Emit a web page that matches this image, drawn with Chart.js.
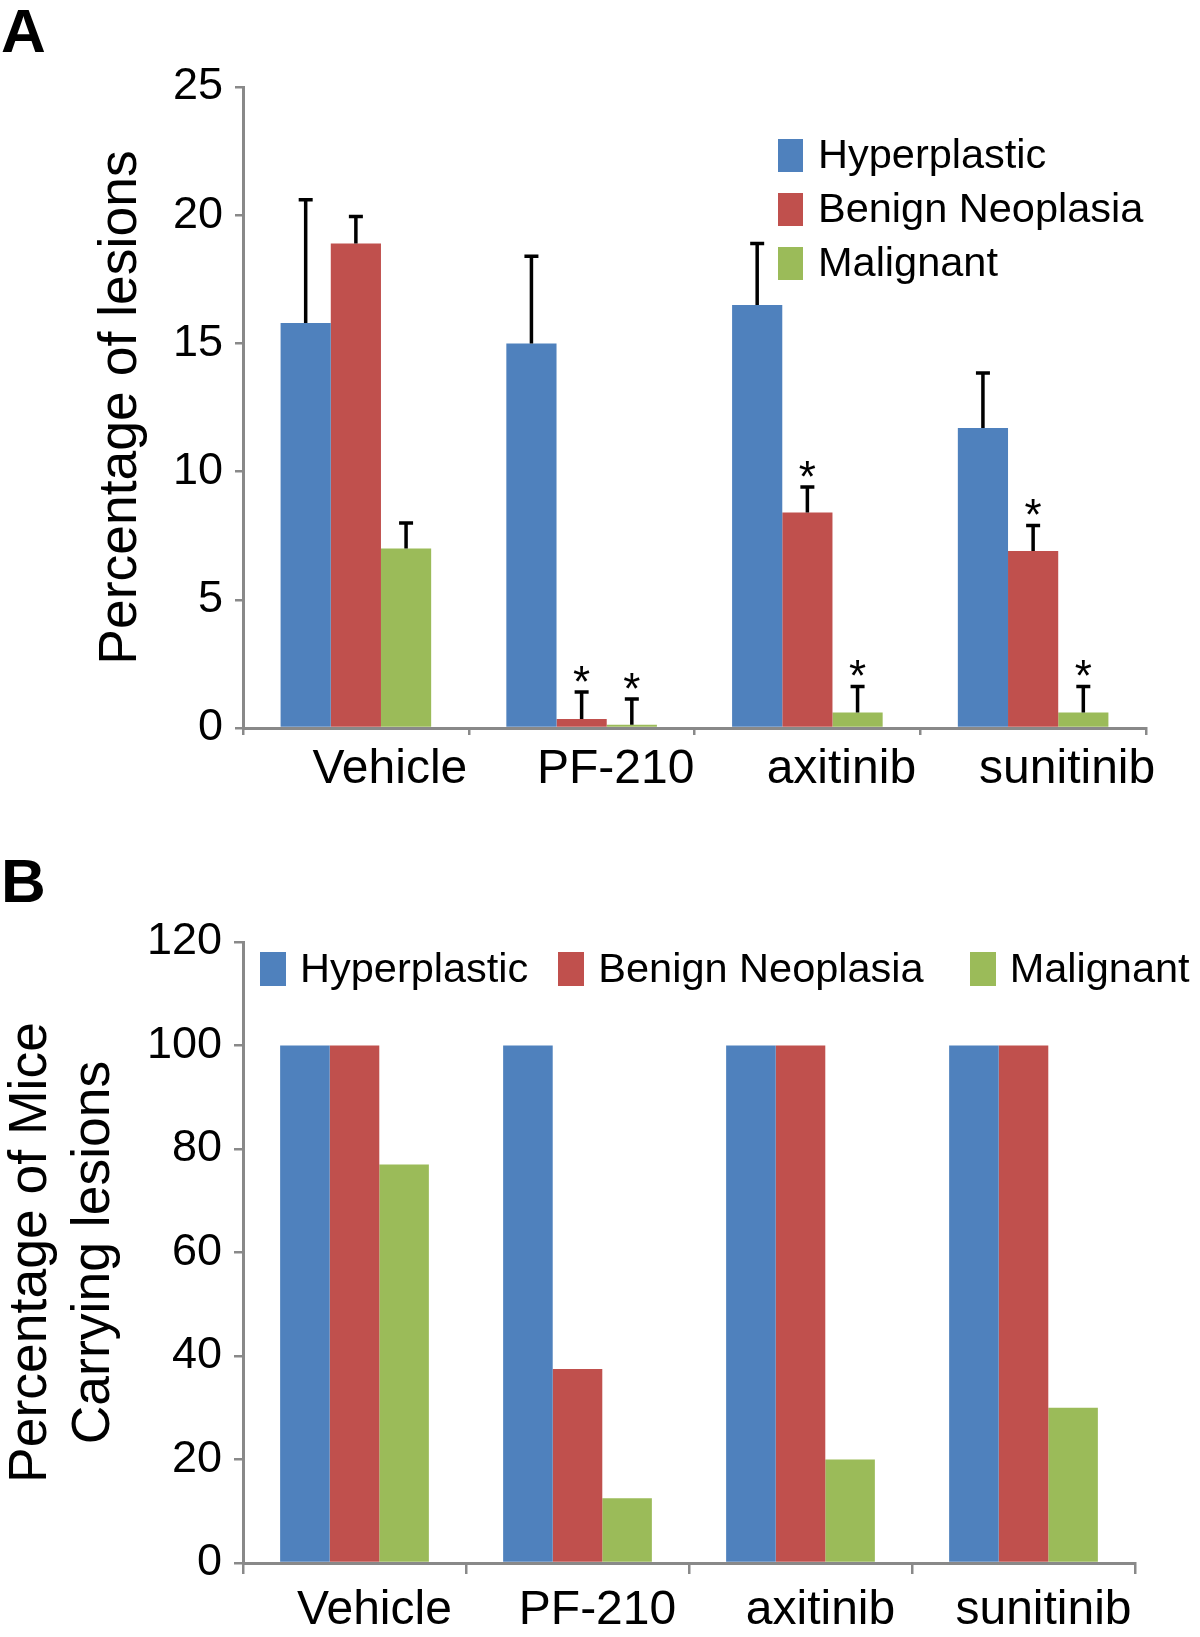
<!DOCTYPE html>
<html><head><meta charset="utf-8">
<script src="https://cdn.jsdelivr.net/npm/chart.js@4.4.1/dist/chart.umd.min.js"></script>
<style>
html,body{margin:0;padding:0;background:#fff;}
body{width:1200px;height:1637px;position:relative;overflow:hidden;font-family:"Liberation Sans",Arial,sans-serif;color:#000;}
canvas{position:absolute;left:0;}
.panel{position:absolute;left:1px;font-weight:bold;font-size:62px;line-height:62px;}
.legend{position:absolute;font-size:41.5px;line-height:41.5px;white-space:nowrap;}
.item{display:flex;align-items:flex-start;}
.sw{display:inline-block;flex:none;}
</style></head><body>
<div class="panel" style="top:0px">A</div>
<div class="panel" style="top:850px">B</div>
<canvas id="cA" width="1200" height="830" style="top:0"></canvas>
<canvas id="cB" width="1200" height="807" style="top:830px"></canvas>
<div id="legA" class="legend" style="left:778px;top:133px"></div>
<div id="legB" class="legend" style="left:260px;top:947px;display:flex"></div>
<script>
// ---------- data ----------
const categories = ['Vehicle', 'PF-210', 'axitinib', 'sunitinib'];
const seriesNames = ['Hyperplastic', 'Benign Neoplasia', 'Malignant'];
const seriesColors = ['#4F81BD', '#C0504D', '#9BBB59'];

// Panel A: percentage of lesions (mean + upper error)
const hyperA = [15.8, 15.0, 16.5, 11.7];
const benignA = [18.9, 0.35, 8.4, 6.9];
const malignantA = [7.0, 0.13, 0.6, 0.6];
const hyperErrA = [4.8, 3.4, 2.4, 2.15];
const benignErrA = [1.05, 1.05, 1.0, 1.0];
const malignantErrA = [1.0, 1.0, 1.02, 1.02];
const hyperSigA = [false, false, false, false];
const benignSigA = [false, true, true, true];
const malignantSigA = [false, true, true, true];
const yTicksA = [0, 5, 10, 15, 20, 25];
const yTitleA = 'Percentage of lesions';

// Panel B: percentage of mice carrying lesions
const hyperB = [100, 100, 100, 100];
const benignB = [100, 37.5, 100, 100];
const malignantB = [77, 12.5, 20, 30];
const yTicksB = [0, 20, 40, 60, 80, 100, 120];
const yTitleB = ['Percentage of Mice', 'Carrying lesions'];

// ---------- styling ----------
const FONT = '"Liberation Sans", Arial, sans-serif';
const axisColor = '#898989';
Chart.defaults.font.family = FONT;
Chart.defaults.color = '#000';

const errorBarPlugin = {
  id: 'errorBars',
  afterDatasetsDraw(chart) {
    const ctx = chart.ctx;
    const yScale = chart.scales.y;
    chart.data.datasets.forEach((ds, di) => {
      if (!ds.errorPlus) return;
      const meta = chart.getDatasetMeta(di);
      meta.data.forEach((bar, i) => {
        const top = yScale.getPixelForValue(ds.data[i] + ds.errorPlus[i]);
        const x = bar.x;
        ctx.save();
        ctx.strokeStyle = '#000';
        ctx.lineWidth = 3.5;
        ctx.beginPath();
        ctx.moveTo(x, bar.y);
        ctx.lineTo(x, top);
        ctx.moveTo(x - 7, top);
        ctx.lineTo(x + 7, top);
        ctx.stroke();
        if (ds.significant && ds.significant[i]) {
          ctx.font = '44px ' + FONT;
          ctx.fillStyle = '#000';
          ctx.textAlign = 'center';
          ctx.textBaseline = 'alphabetic';
          const m = ctx.measureText('*');
          const cy = top - 18;
          const base = cy + (m.actualBoundingBoxAscent - m.actualBoundingBoxDescent) / 2;
          ctx.fillText('*', x, base);
        }
        ctx.restore();
      });
    });
  }
};

function makeDatasets(values, errs, sigs) {
  return seriesNames.map((name, k) => {
    const d = {
      label: name,
      data: values[k],
      backgroundColor: seriesColors[k],
      borderWidth: 0,
      categoryPercentage: 0.667,
      barPercentage: 1.0
    };
    if (errs) { d.errorPlus = errs[k]; d.significant = sigs[k]; }
    return d;
  });
}

function makeOptions(cfg) {
  return {
    responsive: false,
    animation: false,
    devicePixelRatio: 1,
    layout: { padding: cfg.padding },
    plugins: { legend: { display: false }, tooltip: { enabled: false } },
    scales: {
      x: {
        type: 'category',
        offset: true,
        grid: { offset: true, drawOnChartArea: false, drawTicks: true, tickLength: cfg.xTickLen, color: axisColor, lineWidth: 2.5 },
        border: { display: true, color: axisColor, width: 3 },
        ticks: { font: { size: 48 }, color: '#000', padding: cfg.xPad, labelOffset: cfg.labelOffset, maxRotation: 0, autoSkip: false },
        afterFit(s) { s.height = cfg.xHeight; }
      },
      y: {
        min: 0,
        max: cfg.yMax,
        afterBuildTicks(s) { s.ticks = cfg.yTicks.map(v => ({ value: v })); },
        grid: { drawOnChartArea: false, drawTicks: true, tickLength: cfg.yTickLen, color: axisColor, lineWidth: 2.5 },
        border: { display: true, color: axisColor, width: 3 },
        ticks: { font: { size: 45 }, color: '#000', padding: cfg.yPad },
        title: { display: true, text: cfg.title, color: '#000', font: { size: 53.5, lineHeight: cfg.titleLH }, padding: { top: cfg.titlePad, bottom: 0 } },
        afterFit(s) { s.width = 243; }
      }
    }
  };
}

const chartA = new Chart(document.getElementById('cA'), {
  type: 'bar',
  data: {
    labels: categories,
    datasets: makeDatasets([hyperA, benignA, malignantA], [hyperErrA, benignErrA, malignantErrA], [hyperSigA, benignSigA, malignantSigA])
  },
  options: makeOptions({
    padding: { top: 87, right: 54, bottom: 22, left: 0 },
    xTickLen: 7, xPad: 6, labelOffset: 34, xHeight: 80,
    yMax: 25, yTicks: yTicksA, yTickLen: 8, yPad: 12,
    title: yTitleA, titleLH: 1.2, titlePad: 89
  }),
  plugins: [errorBarPlugin]
});

const chartB = new Chart(document.getElementById('cB'), {
  type: 'bar',
  data: {
    labels: categories,
    datasets: makeDatasets([hyperB, benignB, malignantB])
  },
  options: makeOptions({
    padding: { top: 112, right: 65, bottom: 4, left: 0 },
    xTickLen: 11, xPad: 8, labelOffset: 20, xHeight: 70,
    yMax: 120, yTicks: yTicksB, yTickLen: 9, yPad: 12,
    title: yTitleB, titleLH: 1.18, titlePad: 0
  })
});

// HTML legends built from the chart datasets
function buildLegend(chart, el, horizontal) {
  const gaps = [30, 46];
  chart.data.datasets.forEach((ds, i) => {
    const item = document.createElement('div');
    item.className = 'item';
    const sw = document.createElement('span');
    sw.className = 'sw';
    sw.style.background = ds.backgroundColor;
    const txt = document.createElement('span');
    txt.textContent = ds.label;
    if (horizontal) {
      sw.style.width = '26px'; sw.style.height = '34px'; sw.style.marginTop = '5px'; sw.style.marginRight = '14px';
      if (i < chart.data.datasets.length - 1) item.style.marginRight = gaps[i] + 'px';
    } else {
      sw.style.width = '25px'; sw.style.height = '33px'; sw.style.marginTop = '6px'; sw.style.marginRight = '15px';
      item.style.height = '54px';
    }
    item.appendChild(sw);
    item.appendChild(txt);
    el.appendChild(item);
  });
}
buildLegend(chartA, document.getElementById('legA'), false);
buildLegend(chartB, document.getElementById('legB'), true);
</script>
</body></html>
